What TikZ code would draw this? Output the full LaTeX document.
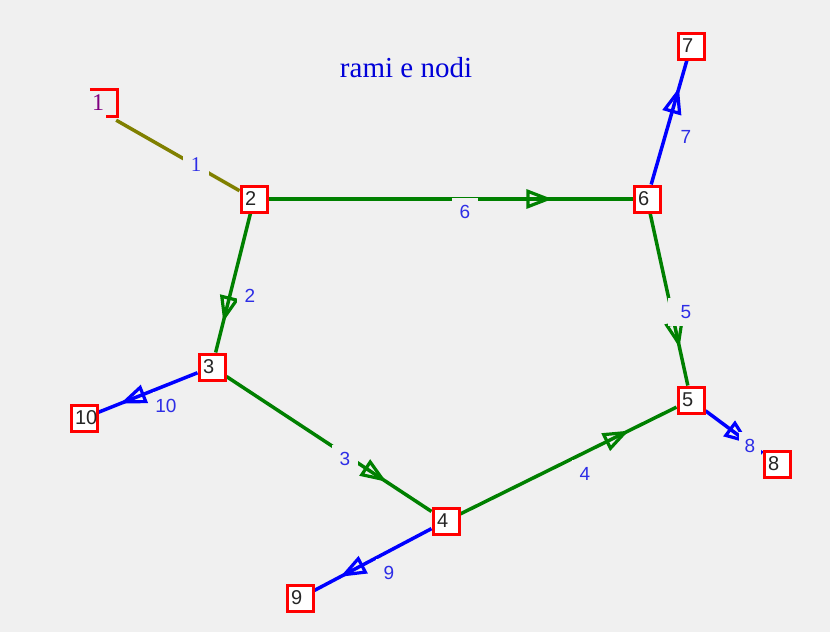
\documentclass[tikz,border=0pt]{standalone}
\usepackage{fontspec}
\setmainfont{Liberation Serif}
\newfontfamily\lsans{Liberation Sans}
\usetikzlibrary{arrows.meta,decorations.markings}
\definecolor{bgc}{RGB}{240,240,240}
\definecolor{olivec}{RGB}{128,128,0}
\definecolor{greenc}{RGB}{0,128,0}
\definecolor{bluec}{RGB}{0,0,255}
\definecolor{labc}{RGB}{45,45,230}
\definecolor{purc}{RGB}{128,0,128}
\tikzset{
  vbox/.style={draw=red, line width=3pt, fill=white, minimum size=26pt, inner sep=0pt,
    text width=18pt, align=left, font=\lsans\fontsize{20}{20}\selectfont, text=black!85},
  branch/.style={line width=3.5pt, postaction={decorate},
    decoration={markings, mark=at position 0.78 with {\arrow[line width=3.2pt]{Triangle[open,length=26pt,width=19pt]}}}},
  elab/.style={fill=bgc, inner sep=0pt, minimum width=26pt, minimum height=28pt,
    text=labc, font=\lsans\fontsize{19}{19}\selectfont},
}
\begin{document}
\begin{tikzpicture}[x=1pt,y=-1pt]
\fill[bgc] (0,0) rectangle (830,632);
\useasboundingbox (0,0) rectangle (830,632);
\node[text=bluec!85!black, font=\fontsize{29}{29}\selectfont] (title) at (406,68) {rami e nodi};
% nodes
\node[minimum size=26pt, inner sep=0pt, text=purc, font=\fontsize{24}{24}\selectfont] (n1) at (103,103) {\raisebox{-4pt}{\hspace*{-10pt}1}};
\node[vbox] (n2) at (254,199) {2};
\node[vbox] (n3) at (212,367) {3};
\node[vbox] (n4) at (446,521) {4};
\node[vbox] (n5) at (691,400) {5};
\node[vbox] (n6) at (647,199) {6};
\node[vbox] (n7) at (691,46) {7};
\node[vbox] (n8) at (777,464) {8};
\node[vbox] (n9) at (300,598) {9};
\node[vbox] (n10) at (84,418) {10};
\draw[red, line width=3pt] (n1.north west) -- ([xshift=1.5pt]n1.north east) -- ([xshift=1.5pt]n1.south east) -- ([xshift=-10pt]n1.south east);
% branches
\draw[branch, olivec] ([yshift=-4pt]n1.south east) -- (n2);
\draw[branch, greenc] (n2) -- (n3);
\draw[branch, greenc] (n3) -- (n4);
\draw[branch, greenc] (n4) -- (n5);
\draw[branch, greenc] (n6) -- (n5);
\draw[branch, greenc] (n2) -- (n6);
\draw[branch, bluec] (n6) -- (n7);
\draw[branch, bluec] (n5) -- (n8);
\draw[branch, bluec] (n4) -- (n9);
\draw[branch, bluec] (n3) -- (n10);
% redraw boxes on top
\node[vbox] at (n2) {2};
\node[vbox] at (n3) {3};
\node[vbox] at (n4) {4};
\node[vbox] at (n5) {5};
\node[vbox] at (n6) {6};
\node[vbox] at (n7) {7};
\node[vbox] at (n8) {8};
\node[vbox] at (n9) {9};
\node[vbox] at (n10) {10};
% branch labels
\node[elab, font=\fontsize{21}{21}\selectfont] (l1) at (196,165) {1};
\node[elab] (l2) at (250,296) {2};
\node[elab] (l3) at (345,459) {3};
\node[elab] (l4) at (585,474) {4};
\node[elab, minimum width=36pt] (l5) at (686,312) {5};
\node[elab] (l6) at (465,212) {6};
\node[elab] (l7) at (686,137) {7};
\node[elab, minimum width=22pt] (l8) at (750,446) {8};
\node[elab] (l9) at (389,573) {9};
\node[elab] (l10) at (166,406) {10};
\end{tikzpicture}
\end{document}
